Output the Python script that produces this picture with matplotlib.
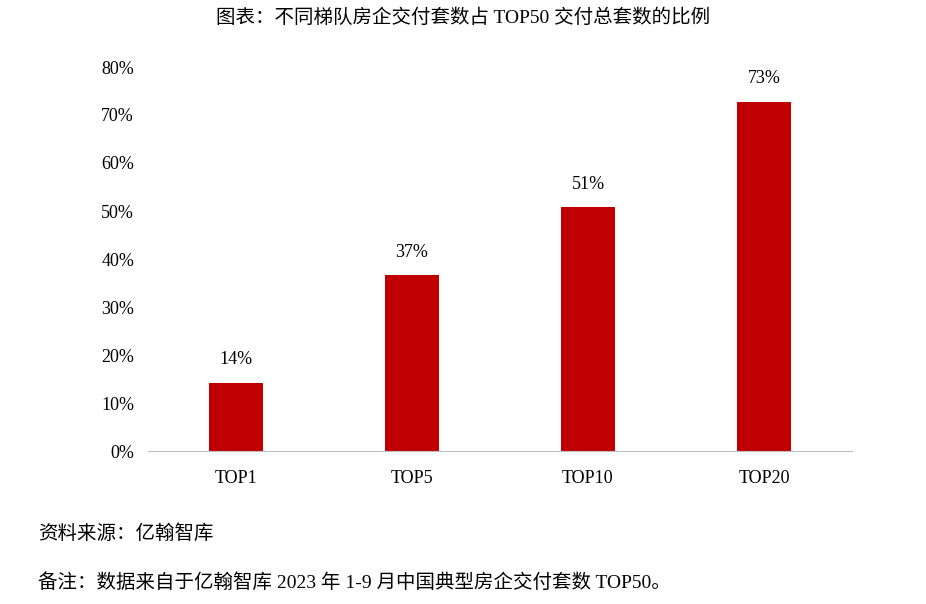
import matplotlib
matplotlib.use("Agg")
import matplotlib.pyplot as plt

categories = ["TOP1", "TOP5", "TOP10", "TOP20"]
values = [14.2, 36.6, 50.8, 72.8]
labels = ["14%", "37%", "51%", "73%"]
yticks = [0, 10, 20, 30, 40, 50, 60, 70, 80]

fam = ["Liberation Serif", "Noto Sans CJK SC"]
plt.rcParams["font.family"] = fam

fig = plt.figure(figsize=(9.26, 6.04), dpi=100)
ax = fig.add_axes([148/926, 1-451/604, 704/926, 384/604])
ax.bar(range(len(categories)), values, width=0.31, color="#C00000")
for i, (v, l) in enumerate(zip(values, labels)):
    ax.text(i, v + 3, l, ha="center", va="bottom", fontsize=13)
ax.set_xlim(-0.5, 3.5)
ax.set_ylim(0, 80)
ax.set_yticks(yticks)
ax.set_yticklabels([f"{t}%" for t in yticks], fontsize=13)
ax.set_xticks(range(len(categories)))
ax.set_xticklabels(categories, fontsize=13)
for s in ["top", "right", "left"]:
    ax.spines[s].set_visible(False)
ax.spines["bottom"].set_color("#BFBFBF")
ax.tick_params(axis="y", length=0, pad=10)
ax.tick_params(axis="x", length=0, pad=14)

fig.text(0.5, 1-18/604, "图表：不同梯队房企交付套数占 TOP50 交付总套数的比例", ha="center", va="center", fontsize=14)
fig.text(38/926, 1-533/604, "资料来源：亿翰智库", ha="left", va="center", fontsize=14)
fig.text(38/926, 1-582/604, "备注：数据来自于亿翰智库 2023 年 1-9 月中国典型房企交付套数 TOP50。", ha="left", va="center", fontsize=14)
fig.savefig("out.png", dpi=100)
